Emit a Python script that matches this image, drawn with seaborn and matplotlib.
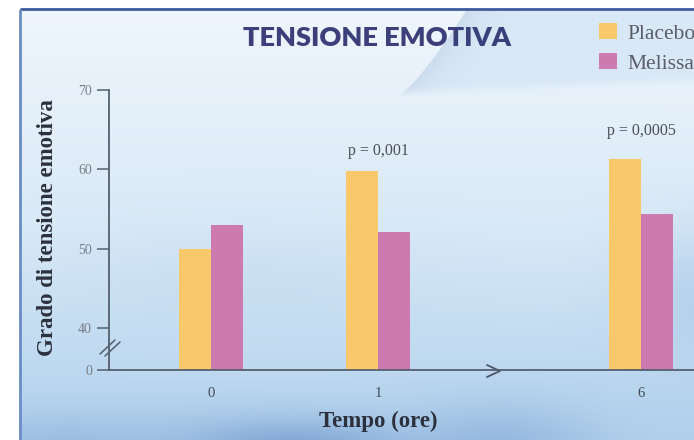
import numpy as np
import pandas as pd
import matplotlib
matplotlib.use("Agg")
import matplotlib.pyplot as plt
import seaborn as sns

# ---- data -------------------------------------------------------------
hours = ["0", "1", "6"]
groups = ["Placebo", "Melissa"]
placebo = [50.0, 59.8, 61.3]
melissa = [53.0, 52.1, 54.4]
p_labels = [None, "p = 0,001", "p = 0,0005"]
y_tick_values = [40, 50, 60, 70]

# ---- layout -----------------------------------------------------------
W, H = 694, 440
slot = {"0": 0.0, "1": 1.0, "6": 2.575}   # axis slots (time axis is broken after 1 h)
y_floor = 34.7                            # bottom of the broken value axis (labelled 0)
p_offset_pt = [0, 14.4, 20.2]

df = pd.DataFrame({
    "tempo": hours * 2,
    "gruppo": [groups[0]] * 3 + [groups[1]] * 3,
    "valore": placebo + melissa,
})
df["slot"] = df["tempo"].map(slot)

sns.set_theme(style="white")
plt.rcParams["font.family"] = ["Liberation Serif", "DejaVu Serif"]

fig = plt.figure(figsize=(W / 100, H / 100), dpi=100)

# ---- watercolour-like backdrop -------------------------------------------
bg = fig.add_axes([0, 0, 1, 1], zorder=-10)
yy, xx = np.mgrid[0:H, 0:W].astype(float)

def blob(cx, cy, sx, sy):
    return np.exp(-((xx - cx) / sx) ** 2 - ((yy - cy) / sy) ** 2)

c_top = np.array([240, 246, 252.0])
c_mid = np.array([216, 233, 247.0])
c_bot = np.array([176, 208, 236.0])
t1 = np.clip(yy / 230.0, 0, 1)[..., None]
t2 = np.clip((yy - 230) / 210.0, 0, 1)[..., None]
img = c_top * (1 - t1) + c_mid * t1
img = img * (1 - t2) + c_bot * t2

def tint(img, color, w):
    w = np.clip(w, 0, 1)[..., None]
    return img * (1 - w) + np.array(color, float) * w

# back of the curled page, top right
edge_x = 395 + 70 * np.clip((97 - yy) / 87.0, 0, 1) ** 0.8
floor_y = 97 - 12 * np.clip((xx - 395) / 300.0, 0, 1)
inside = np.clip((xx - edge_x) / 2.0, 0, 1) * np.clip((floor_y - yy) / 10.0, 0, 1)
img = tint(img, (218, 233, 247), inside)
shade = inside * np.exp(-np.clip(xx - edge_x, 0, None) / 22.0)
img = tint(img, (198, 215, 233), shade * 0.75)

img = tint(img, (120, 158, 208), 0.85 * blob(290, 450, 120, 32))
img = tint(img, (140, 176, 218), 0.7 * blob(500, 445, 90, 40))
img = tint(img, (145, 182, 220), 0.65 * blob(60, 445, 130, 32))
img = tint(img, (172, 202, 232), 0.6 * blob(690, 300, 60, 70))
img = tint(img, (196, 220, 240), 0.5 * blob(250, 290, 160, 60))

img[:9, :, :] = 255
img[:, :20, :] = 255
bg.imshow(img.astype(np.uint8), extent=(0, W, H, 0), aspect="auto", interpolation="bilinear")
bg.set_xlim(0, W)
bg.set_ylim(H, 0)
bg.axis("off")

# frame
bg.plot([20.5, W], [9.5, 9.5], color="#3d5c9c", lw=2.0, solid_capstyle="butt")
bg.plot([20.5, 20.5], [9.5, H], color="#6a8cc4", lw=2.0, solid_capstyle="butt")

# axis break marks and time-axis arrow
bg.plot([100, 115], [354, 340], color="#55606e", lw=1.1)
bg.plot([105, 120], [356, 342], color="#55606e", lw=1.1)
bg.plot([487, 500, 487], [365, 371, 377], color="#4a5566", lw=1.3)

# ---- bars --------------------------------------------------------------
ax = fig.add_axes([109 / W, 1 - 370 / H, (720 - 109) / W, 280 / H])
ax.set_facecolor("none")

sns.barplot(
    data=df, x="slot", y="valore", hue="gruppo", hue_order=groups,
    native_scale=True, width=0.385, saturation=1, errorbar=None,
    palette=["#F9C86B", "#CD7AB0"], linewidth=0, ax=ax,
)

ax.set_xlim(-0.611, 3.048)
ax.set_ylim(y_floor, 70)

ax.set_yticks([y_floor] + y_tick_values, labels=["0"] + [str(v) for v in y_tick_values])
ax.set_xticks([slot[h] for h in hours], labels=hours)

for s in ["top", "right"]:
    ax.spines[s].set_visible(False)
for s in ["left", "bottom"]:
    ax.spines[s].set_color("#55606e")
    ax.spines[s].set_linewidth(1.3)

ax.tick_params(axis="y", left=True, length=8.6, width=1.1, color="#55606e",
               pad=3.6, labelsize=10, labelcolor="#7a7f88")
ax.tick_params(axis="x", bottom=False, length=0, pad=12, labelsize=10.5, labelcolor="#444a55")

ax.set_xlabel("Tempo (ore)", fontsize=16.5, fontweight="bold", color="#2b303c")
ax.xaxis.set_label_coords((378 - 109) / 611, -(411 - 370) / 280)
ax.set_ylabel("Grado di tensione emotiva", fontsize=16.5, fontweight="bold", color="#2b303c")
ax.yaxis.set_label_coords(-(109 - 58) / 611, (370 - 228) / 280)

# significance labels above the placebo bars
for i, h in enumerate(hours):
    if p_labels[i]:
        ax.annotate(p_labels[i], xy=(slot[h], placebo[i]), xytext=(0, p_offset_pt[i]),
                    textcoords="offset points", ha="center", va="center",
                    fontsize=11.5, color="#4a4f5a")

fig.suptitle("TENSIONE EMOTIVA", x=377 / W, y=1 - 38 / H, va="center",
             fontsize=19.5, fontweight="heavy", color="#3b3f7a", family=["Lato", "DejaVu Sans"])

sns.move_legend(
    ax, "upper left", bbox_to_anchor=(599 / W, 1 - 23 / H), bbox_transform=fig.transFigure,
    frameon=False, title=None, fontsize=15.5, labelcolor="#5a5e68",
    handlelength=0.85, handleheight=0.78, handletextpad=0.45,
    borderpad=0, borderaxespad=0, labelspacing=0.45,
)

fig.savefig("out.png", dpi=100)
